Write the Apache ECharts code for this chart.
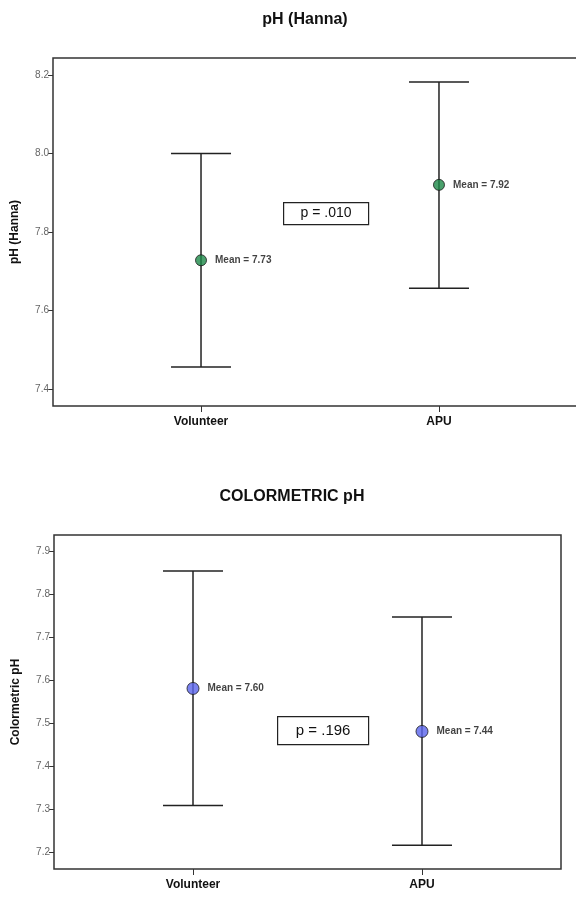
<!DOCTYPE html>
<html><head><meta charset="utf-8">
<script src="https://cdn.jsdelivr.net/npm/echarts@6/dist/echarts.min.js"></script>
<style>html,body{margin:0;padding:0;background:#fff}#c{width:576px;height:899px}</style>
</head><body><div id="c"></div>
<script>
// ---- data ----
const categories = ['Volunteer', 'APU'];
// chart 1: pH (Hanna)
const hannaMean = [7.728, 7.920];
const hannaLow  = [7.456, 7.657];
const hannaHigh = [8.000, 8.182];
const hannaMeanLabels = ['Mean = 7.73', 'Mean = 7.92'];
const hannaTicks = [7.4, 7.6, 7.8, 8.0, 8.2];
const hannaP = 'p = .010';
// chart 2: Colormetric pH
const colorMean = [7.580, 7.480];
const colorLow  = [7.308, 7.215];
const colorHigh = [7.853, 7.746];
const colorMeanLabels = ['Mean = 7.60', 'Mean = 7.44'];
const colorTicks = [7.2, 7.3, 7.4, 7.5, 7.6, 7.7, 7.8, 7.9];
const colorP = 'p = .196';

const FONT = '"Liberation Sans", Arial, sans-serif';
const xPos = categories.map((c, i) => i + 1);

function errRender(params, api) {
  const x = api.value(0), lo = api.value(1), hi = api.value(2);
  const pLo = api.coord([x, lo]), pHi = api.coord([x, hi]);
  const w = 30;
  const st = {stroke: '#222', lineWidth: 1.5};
  return {type: 'group', children: [
    {type: 'line', shape: {x1: pLo[0], y1: pLo[1], x2: pHi[0], y2: pHi[1]}, style: st},
    {type: 'line', shape: {x1: pLo[0]-w, y1: pLo[1], x2: pLo[0]+w, y2: pLo[1]}, style: st},
    {type: 'line', shape: {x1: pHi[0]-w, y1: pHi[1], x2: pHi[0]+w, y2: pHi[1]}, style: st}
  ]};
}

function xAxisFor(gi, min, max) {
  return {
    type: 'value', gridIndex: gi, min: min, max: max,
    splitLine: {show: false}, axisLine: {show: false},
    axisTick: {show: true, customValues: xPos, length: 6, lineStyle: {color: '#333', width: 1}},
    axisLabel: {show: true, customValues: xPos, margin: 10, color: '#111',
      fontFamily: FONT, fontWeight: 'bold', fontSize: 12,
      formatter: v => categories[Math.round(v) - 1] || ''}
  };
}
function yAxisFor(gi, min, max, ticks, name) {
  return {
    type: 'value', gridIndex: gi, min: min, max: max,
    splitLine: {show: false}, axisLine: {show: false},
    axisTick: {show: true, customValues: ticks, length: 5, lineStyle: {color: '#333'}},
    axisLabel: {show: true, customValues: ticks, margin: 4, color: '#666', fontFamily: FONT, fontSize: 10,
      formatter: v => v.toFixed(1)},
    name: name, nameLocation: 'middle', nameGap: 32,
    nameTextStyle: {fontFamily: FONT, fontWeight: 'bold', fontSize: 12, color: '#111'}
  };
}

const chart = echarts.init(document.getElementById('c'), null, {renderer: 'canvas'});
chart.setOption({
  animation: false,
  backgroundColor: '#fff',
  title: [
    {text: 'pH (Hanna)', left: 300, top: 7, textAlign: 'center',
      textStyle: {fontFamily: FONT, fontWeight: 'bold', fontSize: 16, color: '#111'}},
    {text: 'COLORMETRIC pH', left: 287, top: 484, textAlign: 'center',
      textStyle: {fontFamily: FONT, fontWeight: 'bold', fontSize: 16, color: '#111'}}
  ],
  grid: [
    {left: 53, top: 58, width: 534, height: 348, show: true, borderColor: '#333', borderWidth: 1.5,
      backgroundColor: '#fff', outerBoundsMode: 'none', containLabel: false},
    {left: 54, top: 535, width: 507, height: 334, show: true, borderColor: '#333', borderWidth: 1.5,
      backgroundColor: '#fff', outerBoundsMode: 'none', containLabel: false}
  ],
  xAxis: [xAxisFor(0, 0.378, 2.622), xAxisFor(1, 0.393, 2.607)],
  yAxis: [yAxisFor(0, 7.357, 8.243, hannaTicks, 'pH (Hanna)'),
          yAxisFor(1, 7.160, 7.937, colorTicks, 'Colormetric pH')],
  series: [
    {type: 'custom', xAxisIndex: 0, yAxisIndex: 0, renderItem: errRender,
      data: xPos.map((x, i) => [x, hannaLow[i], hannaHigh[i]]), z: 2},
    {type: 'scatter', xAxisIndex: 0, yAxisIndex: 0, symbolSize: 11, z: 3,
      itemStyle: {color: '#1d8a48', borderColor: '#1a1a1a', borderWidth: 1},
      label: {show: true, position: 'right', distance: 8, fontFamily: FONT, fontWeight: 'bold', fontSize: 10, color: '#111',
        formatter: p => hannaMeanLabels[p.dataIndex]},
      data: xPos.map((x, i) => [x, hannaMean[i]])},
    {type: 'custom', xAxisIndex: 1, yAxisIndex: 1, renderItem: errRender,
      data: xPos.map((x, i) => [x, colorLow[i], colorHigh[i]]), z: 2},
    {type: 'scatter', xAxisIndex: 1, yAxisIndex: 1, symbolSize: 12, z: 3,
      itemStyle: {color: '#5a64ec', borderColor: '#1a1a1a', borderWidth: 1},
      label: {show: true, position: 'right', distance: 8, fontFamily: FONT, fontWeight: 'bold', fontSize: 10, color: '#111',
        formatter: p => colorMeanLabels[p.dataIndex]},
      data: xPos.map((x, i) => [x, colorMean[i]])}
  ],
  graphic: [
    {type: 'group', left: 283, top: 202, children: [
      {type: 'rect', shape: {x: 0, y: 0, width: 85, height: 22}, style: {fill: '#fff', stroke: '#222', lineWidth: 1.2}},
      {type: 'text', x: 42.5, y: 11, style: {text: hannaP, fontFamily: FONT, fontSize: 14, fill: '#111', align: 'center', verticalAlign: 'middle'}}
    ]},
    {type: 'group', left: 277, top: 716, children: [
      {type: 'rect', shape: {x: 0, y: 0, width: 91, height: 28}, style: {fill: '#fff', stroke: '#222', lineWidth: 1.2}},
      {type: 'text', x: 45.5, y: 14, style: {text: colorP, fontFamily: FONT, fontSize: 15, fill: '#111', align: 'center', verticalAlign: 'middle'}}
    ]}
  ]
});
</script></body></html>
